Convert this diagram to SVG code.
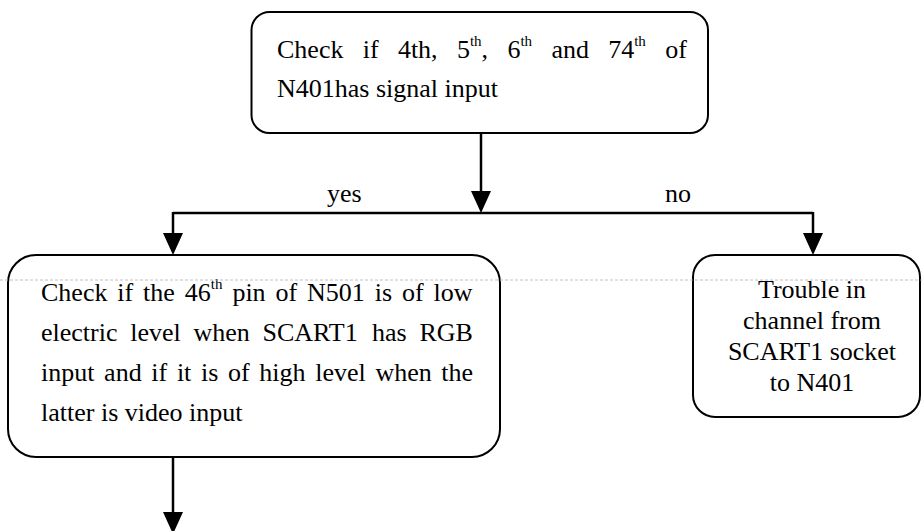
<svg xmlns="http://www.w3.org/2000/svg" width="922" height="531" viewBox="0 0 922 531">
<style>
  .box { fill: #ffffff; stroke: #000000; stroke-width: 2; }
  .t { font-family: "Liberation Serif", "Times New Roman", serif; font-size: 26px; fill: #000000; }
  .sup { font-family: "Liberation Serif", "Times New Roman", serif; font-size: 15px; fill: #000000; }
  .c { text-anchor: middle; }
  .conn { fill: none; stroke: #000000; stroke-width: 2.5; }
  .scan { stroke: #b0b0b0; stroke-width: 0.8; stroke-dasharray: 3 2; }
</style>
<defs>
  <marker id="arr" markerUnits="userSpaceOnUse" markerWidth="22" markerHeight="20" viewBox="0 0 22 20" refX="10" refY="10" orient="auto">
    <path d="M0,0 L22,10 L0,20 z" fill="#000000"/>
  </marker>
</defs>
<rect x="0" y="0" width="922" height="531" fill="#ffffff"/>

<g id="connectors">
  <line class="conn" x1="481" y1="133" x2="481" y2="201" marker-end="url(#arr)"/>
  <polyline class="conn" points="173,213 813,213"/>
  <line class="conn" x1="173" y1="212" x2="173" y2="243" marker-end="url(#arr)"/>
  <line class="conn" x1="813" y1="212" x2="813" y2="243" marker-end="url(#arr)"/>
  <line class="conn" x1="173" y1="457" x2="173" y2="522" marker-end="url(#arr)"/>
  <text class="t" x="327" y="202">yes</text>
  <text class="t" x="665" y="202">no</text>
</g>

<g id="node-check-n401">
  <rect class="box" x="251.5" y="12" width="456.5" height="121" rx="18" ry="18"/>
  <text class="t" x="277" y="58">Check</text>
  <text class="t" x="362.7" y="58">if</text>
  <text class="t" x="397.9" y="58">4th,</text>
  <text class="t" x="456.9" y="58">5</text>
  <text class="sup" x="469.9" y="46">th</text>
  <text class="t" x="481.6" y="58">,</text>
  <text class="t" x="507.4" y="58">6</text>
  <text class="sup" x="520.4" y="46">th</text>
  <text class="t" x="551.4" y="58">and</text>
  <text class="t" x="608.2" y="58">74</text>
  <text class="sup" x="634.2" y="46">th</text>
  <text class="t" x="665.2" y="58">of</text>
  <text class="t" x="277" y="97">N401has signal input</text>
</g>

<g id="node-check-n501">
  <rect class="box" x="8" y="255" width="492" height="202" rx="28" ry="28"/>
  <text class="t" x="41" y="301">Check</text>
  <text class="t" x="117.3" y="301">if</text>
  <text class="t" x="143.1" y="301">the</text>
  <text class="t" x="184.8" y="301">46</text>
  <text class="sup" x="210.8" y="289">th</text>
  <text class="t" x="232.4" y="301">pin</text>
  <text class="t" x="275.5" y="301">of</text>
  <text class="t" x="307.1" y="301">N501</text>
  <text class="t" x="374.8" y="301">is</text>
  <text class="t" x="402" y="301">of</text>
  <text class="t" x="433.6" y="301">low</text>

  <text class="t" x="41" y="341">electric</text>
  <text class="t" x="130.2" y="341">level</text>
  <text class="t" x="193.5" y="341">when</text>
  <text class="t" x="262.5" y="341">SCART1</text>
  <text class="t" x="372" y="341">has</text>
  <text class="t" x="419.4" y="341">RGB</text>

  <text class="t" x="41" y="381">input</text>
  <text class="t" x="104.1" y="381">and</text>
  <text class="t" x="151.3" y="381">if</text>
  <text class="t" x="176.9" y="381">it</text>
  <text class="t" x="201" y="381">is</text>
  <text class="t" x="228" y="381">of</text>
  <text class="t" x="259.3" y="381">high</text>
  <text class="t" x="315.2" y="381">level</text>
  <text class="t" x="375.4" y="381">when</text>
  <text class="t" x="441.3" y="381">the</text>

  <text class="t" x="41" y="421">latter is video input</text>
</g>

<g id="node-trouble">
  <rect class="box" x="693" y="255" width="227" height="162" rx="22" ry="22"/>
  <text class="t c" x="812" y="298">Trouble in</text>
  <text class="t c" x="812" y="329">channel from</text>
  <text class="t c" x="812" y="360">SCART1 socket</text>
  <text class="t c" x="812" y="391">to N401</text>
</g>

<line class="scan" x1="0" y1="280" x2="922" y2="280"/>
</svg>
